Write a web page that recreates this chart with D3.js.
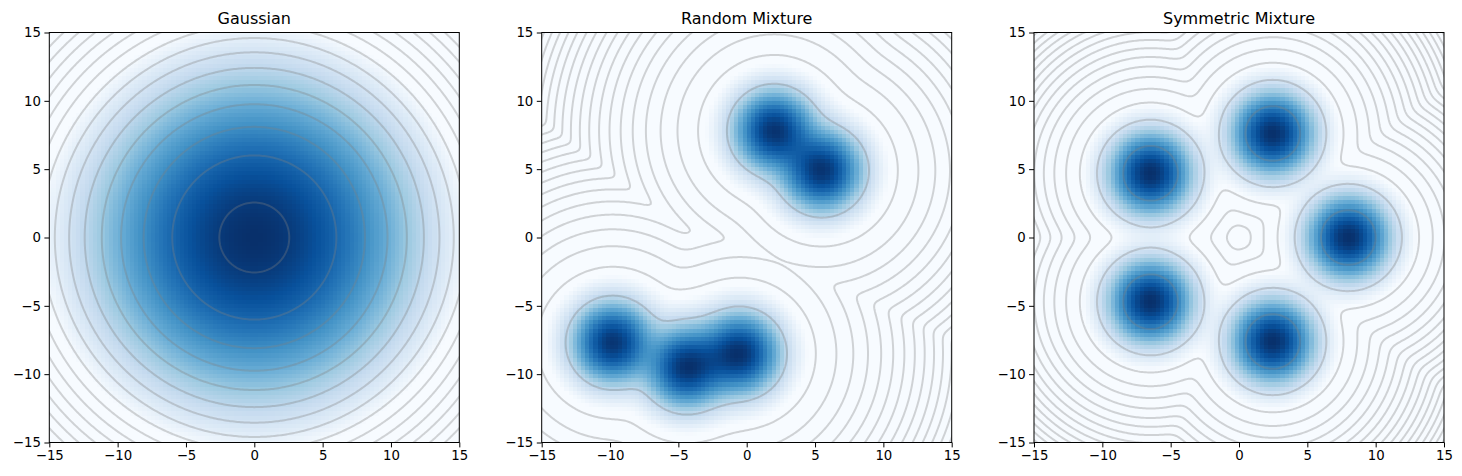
<!DOCTYPE html>
<html>
<head>
<meta charset="utf-8">
<script src="https://cdn.jsdelivr.net/npm/d3@7"></script>
<style>
  body { margin: 0; background: #fff; }
  text { font-family: "DejaVu Sans", sans-serif; }
</style>
</head>
<body>
<div id="chart"></div>
<script>
// panel titles and axis ticks
var titles = ["Gaussian", "Random Mixture", "Symmetric Mixture"];
var axisTicks = [-15, -10, -5, 0, 5, 10, 15];

// component means
var gaussianMeans = [[0, 0]];
var randomMeans = [[2.0, 7.8], [5.5, 4.9], [-9.8, -7.7], [-4.4, -9.5], [-0.5, -8.5]];
var symmetricMeans = [[8, 0], [2.47, 7.61], [-6.47, 4.70], [-6.47, -4.70], [2.47, -7.61]];

// per panel: component sigma, colour gamma and floor, first contour ring (d^2) and ring step (d^2)
var compSigma = [11.4, 1.58, 1.58];
var heatGamma = [1, 0.42, 0.42];
var heatFloor = [0.38, 0.12, 0.12];
var ringStart = [6.55, 11.9, 4.0];
var ringStep = [29.5, 19, 11.4];

// matplotlib "Blues"
var bluesColors = ["#f7fbff", "#deebf7", "#c6dbef", "#9ecae1", "#6baed6", "#4292c6", "#2171b5", "#08519c", "#08306b"];

var allMeans = [gaussianMeans, randomMeans, symmetricMeans];

var svgWidth = 1462, svgHeight = 476;
var panelLeft = [49.3, 541.7, 1034];
var marginTop = 32.5, innerW = 410, innerH = 410;

var blues = d3.scaleLinear()
    .domain(d3.range(bluesColors.length).map(function(i){ return i / (bluesColors.length - 1); }))
    .range(bluesColors)
    .interpolate(d3.interpolateRgb)
    .clamp(true);

var svg = d3.select("#chart").append("svg")
    .attr("width", svgWidth)
    .attr("height", svgHeight);

// -2 s^2 * log( sum_i exp(-d_i^2 / 2s^2) ) -> equals d^2 near an isolated component
function effD2(x, y, means, s) {
    var s2 = 2 * s * s;
    var terms = means.map(function(m){ return -((x - m[0]) * (x - m[0]) + (y - m[1]) * (y - m[1])) / s2; });
    var mx = d3.max(terms);
    var sum = d3.sum(terms, function(t){ return Math.exp(t - mx); });
    return -s2 * (mx + Math.log(sum));
}

function density(x, y, means, s) {
    var s2 = 2 * s * s;
    return d3.sum(means, function(m){
        return Math.exp(-((x - m[0]) * (x - m[0]) + (y - m[1]) * (y - m[1])) / s2);
    });
}

titles.forEach(function(title, p) {
    var means = allMeans[p];
    var s = compSigma[p];

    var xScale = d3.scaleLinear().domain([-15, 15]).range([0, innerW]);
    var yScale = d3.scaleLinear().domain([-15, 15]).range([innerH, 0]);

    var g = svg.append("g")
        .attr("transform", "translate(" + panelLeft[p] + "," + marginTop + ")");

    g.append("clipPath").attr("id", "clip" + p)
        .append("rect").attr("width", innerW).attr("height", innerH);

    var plot = g.append("g").attr("clip-path", "url(#clip" + p + ")");

    // heat map on a 100 x 100 grid
    var n = 100, step = 30 / (n - 1);
    var cells = [];
    var maxD = 0;
    for (var j = 0; j < n; j++) {
        for (var i = 0; i < n; i++) {
            var cx = -15 + i * step, cy = -15 + j * step;
            var d = density(cx, cy, means, s);
            if (d > maxD) maxD = d;
            cells.push({x: cx, y: cy, v: d});
        }
    }
    var floor = heatFloor[p], gamma = heatGamma[p];

    plot.append("g")
        .attr("shape-rendering", "crispEdges")
        .selectAll("rect")
        .data(cells)
        .enter().append("rect")
        .attr("x", function(d){ return xScale(d.x - step / 2); })
        .attr("y", function(d){ return yScale(d.y + step / 2); })
        .attr("width", function(d){ return xScale(d.x + step / 2) - xScale(d.x - step / 2); })
        .attr("height", function(d){ return yScale(d.y - step / 2) - yScale(d.y + step / 2); })
        .attr("fill", function(d){ return blues((Math.pow(d.v / maxD, gamma) - floor) / (1 - floor)); });

    // contours of log density, on a finer grid that runs past the frame
    var cn = 261, lo = -16, cs = 32 / (cn - 1);
    var values = new Array(cn * cn);
    for (var jj = 0; jj < cn; jj++) {
        for (var ii = 0; ii < cn; ii++) {
            values[jj * cn + ii] = effD2(lo + ii * cs, lo + jj * cs, means, s);
        }
    }
    var levels = [];
    for (var k = 0; ringStart[p] + k * ringStep[p] < 800; k++) {
        levels.push(ringStart[p] + k * ringStep[p]);
    }
    // negate so that d3.contours rings enclose the low-d^2 regions
    var contours = d3.contours()
        .size([cn, cn])
        .thresholds(levels.map(function(l){ return -l; }))
        (values.map(function(v){ return -v; }));

    var proj = d3.geoTransform({
        point: function(px, py) {
            this.stream.point(xScale(lo + (px - 0.5) * cs), yScale(lo + (py - 0.5) * cs));
        }
    });
    var path = d3.geoPath(proj);

    plot.append("g").selectAll("path")
        .data(contours)
        .enter().append("path")
        .attr("d", path)
        .attr("fill", "none")
        .attr("stroke", "#7f7f7f")
        .attr("stroke-opacity", 0.33)
        .attr("stroke-width", 2);

    // axes
    var xAxis = d3.axisBottom(xScale).tickValues(axisTicks).tickSize(4.9).tickPadding(3.5).tickSizeOuter(0);
    var yAxis = d3.axisLeft(yScale).tickValues(axisTicks).tickSize(4.9).tickPadding(3.5).tickSizeOuter(0);

    g.append("g")
        .attr("transform", "translate(0," + innerH + ")")
        .call(xAxis)
        .call(function(a){ a.select(".domain").remove(); })
        .selectAll("text").style("font-size", "13.3px").attr("fill", "#000");

    g.append("g")
        .call(yAxis)
        .call(function(a){ a.select(".domain").remove(); })
        .selectAll("text").style("font-size", "13.3px").attr("fill", "#000");

    g.selectAll(".tick line").attr("stroke", "#000").attr("stroke-width", 1);

    g.append("rect")
        .attr("width", innerW)
        .attr("height", innerH)
        .attr("fill", "none")
        .attr("stroke", "#000")
        .attr("stroke-width", 1);

    g.append("text")
        .attr("x", innerW / 2)
        .attr("y", -8.5)
        .attr("text-anchor", "middle")
        .style("font-size", "16px")
        .text(title);
});
</script>
</body>
</html>
